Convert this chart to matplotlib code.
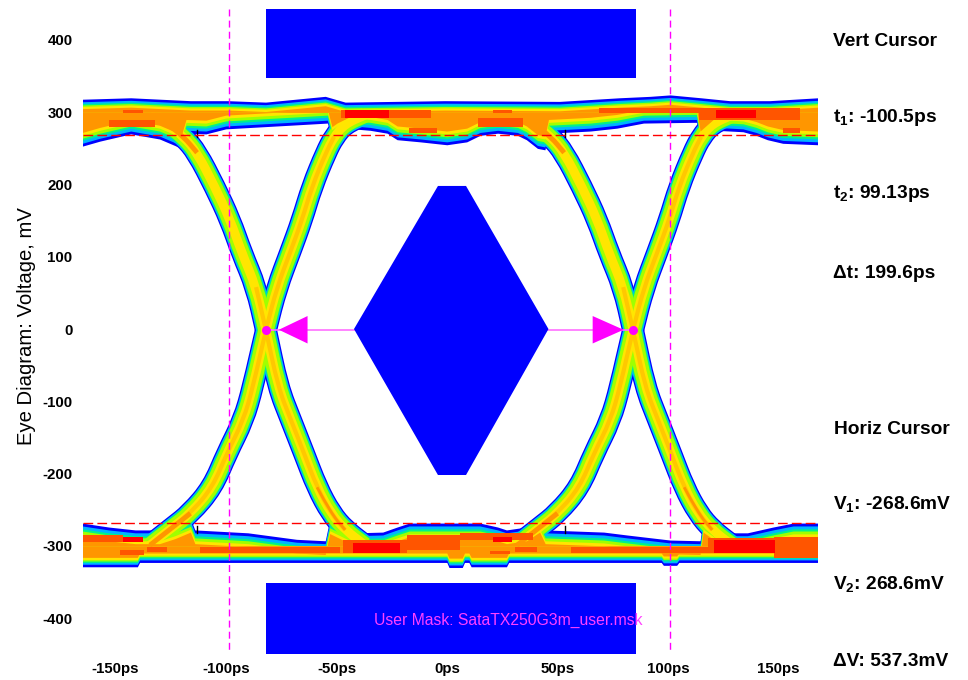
import matplotlib
matplotlib.use("Agg")
import matplotlib.pyplot as plt
from matplotlib.patches import PathPatch
from matplotlib.path import Path
from matplotlib.transforms import ScaledTranslation

plt.rcParams["font.family"] = ["Liberation Sans", "DejaVu Sans"]
plt.rcParams["mathtext.fontset"] = "custom"
plt.rcParams["mathtext.bf"] = "Liberation Sans:bold"
plt.rcParams["mathtext.rm"] = "Liberation Sans:bold"

x_ticks = [-150, -100, -50, 0, 50, 100, 150]
y_ticks = [-400, -300, -200, -100, 0, 100, 200, 300, 400]
t_cursors = [-99.6, 100.0]
v_cursors = [-268.6, 268.6]
crossing_t = [-82.8, 83.3]

# keep-out mask, ps / mV
hex_t = [-43, -5, 7.7, 45, 7.7, -5]
hex_v = [0, 198, 198, 0, -202, -202]
bar_t = [-82.8, 84.6]
top_bar_v = [347, 443]
bottom_bar_v = [-450, -351.6]

# rails: outer and eye-side edges
top_outer_t = [-166, -144, -117, -100, -83, -56, -47, -2, 50, 77, 91, 100, 114, 127, 145, 167]
top_outer_v = [318, 320, 316, 316, 314, 322, 314, 316, 315, 320, 322, 324, 320, 316, 316, 320]
top_inner_t = [-166, -158, -144, -131, -121, -119, -110, -101, -72, -55, -53, -50.7, -43.4, -35.7,
               -28, -23.5, -13, -1, 8, 14, 22, 31, 35, 40, 43.4, 45, 64, 76, 88, 110, 112, 113.6,
               121, 133, 139, 144, 151, 167]
top_inner_v = [253, 260, 270, 263, 250, 271, 270, 277, 282, 285, 261, 266, 277, 275,
               271, 262, 259, 255, 259, 268, 271, 268, 262, 250, 248, 271, 274, 278, 285, 286, 286, 255,
               275, 273, 268, 262, 257, 255]
bot_outer_t = [-166, -141, -140, -1, 0, 6, 7, 9, 10, 26, 27, 96, 97, 103, 104, 167]
bot_outer_v = [-329, -329, -323, -323, -330, -330, -323, -323, -329, -329, -323, -323, -327, -327, -323, -323]
bot_inner_t = [-166, -154, -142, -131, -124, -117, -115, -91, -69, -56, -54, -42, -30, -23.5, -18, 14,
               22, 26, 35, 41, 43.5, 70, 80.5, 100, 113.6, 115, 124, 135, 146.6, 155.7, 167]
bot_inner_v = [-268.5, -274, -278, -278, -271, -262, -278, -282, -291, -293, -264, -282, -281, -274, -268.5, -268.5,
               -274, -278, -274, -262, -278, -281, -285, -292, -293, -262, -282, -282, -274, -268.5, -268.5]

# trace centre lines around one crossing, repeated one UI later
eye_period = 166.1
fall_t = [-135.3, -128.5, -120, -114, -106, -99, -93.7, -87.3, -82.8, -77.4, -71.5, -65.6, -59.7, -53.4, -47, -38]
fall_v = [296, 286, 266, 244, 197, 151, 105, 58, -1, -80, -126, -172, -219, -255, -278, -299]
rise_t = [-135.3, -125.3, -117, -107, -100.5, -93, -88.7, -82.8, -77.8, -72, -66.5, -62, -55.7, -52, -47, -38]
rise_v = [-299, -275, -255, -219, -172, -126, -80, 0, 58, 105, 151, 197, 244, 266, 284, 296]

# hot spots in the rails: t start, t end, v low, v high
hot_t0 = [-147.5, -154, -49, -18, 13, 20, 68, 113, 151,
          -166, -149, -136.7, -112.7, -48, -19, 5, 18.5, 30, 55, 117, 147]
hot_t1 = [-138.5, -133, -8, -5.4, 33.5, 28.5, 118, 159, 159,
          -147.5, -138, -127.6, -49.3, -19, 5, 38, 27.6, 40, 117, 154, 167]
hot_v0 = [299, 280, 292, 271, 280, 299, 299, 289, 271,
          -295, -313, -309, -310, -310, -306, -292, -311, -309, -310, -310, -317]
hot_v1 = [303, 289, 303, 278, 292, 303, 306, 306, 278,
          -285, -306, -302, -302, -292, -285, -282, -307, -302, -302, -289, -288]
red_t0 = [-47, 121, -147.5, -43.4, 20, 120]
red_t1 = [-27, 139, -138.5, -22, 28.5, 147.5]
red_v0 = [292, 292, -295, -310, -295, -310]
red_v1 = [303, 303, -288, -296, -288, -292]

marks_t = [-114, -114, 52.5, 52.5]
marks_v = [271, -277, 271, -277]

band_colors = ["#0000ff", "#00b4ff", "#00f08c", "#a0ff00", "#ffe600", "#ff9600"]
outer_inset = [0, 3.5, 6, 8, 10, 13]
inner_inset = [0, 4, 8, 11, 15, 19]
arm_widths = [15.8, 14, 12.6, 11.2, 6.5, 0]


def shifted(values, inset):
    return [v + inset for v in values]


def draw_arm(ax, t, v, color, lw, z):
    # quadratic pieces through the midpoints so the trace has no corners
    verts = [(t[0], v[0])]
    codes = [Path.MOVETO]
    for i in range(1, len(t) - 1):
        verts.append((t[i], v[i]))
        verts.append(((t[i] + t[i + 1]) / 2, (v[i] + v[i + 1]) / 2))
        codes.extend([Path.CURVE3, Path.CURVE3])
    verts.append((t[-1], v[-1]))
    codes.append(Path.LINETO)
    ax.add_patch(PathPatch(Path(verts, codes), fill=False, edgecolor=color, lw=lw,
                           capstyle="butt", joinstyle="round", zorder=z))


fig = plt.figure(figsize=(9.68, 6.8), dpi=100)
ax = fig.add_axes([83 / 968, 1 - 660 / 680, 734 / 968, 655 / 680])

for level, color in enumerate(band_colors):
    z = 2 + level
    ax.fill_between(top_outer_t, shifted(top_outer_v, -outer_inset[level]), 300, color=color, lw=0, zorder=z)
    ax.fill_between(top_inner_t, shifted(top_inner_v, inner_inset[level]), 300, color=color, lw=0, zorder=z)
    ax.fill_between(bot_outer_t, shifted(bot_outer_v, outer_inset[level]), -300, color=color, lw=0, zorder=z)
    ax.fill_between(bot_inner_t, shifted(bot_inner_v, -inner_inset[level]), -300, color=color, lw=0, zorder=z)
    if arm_widths[level] > 0:
        for ui in [0, eye_period]:
            draw_arm(ax, shifted(fall_t, ui), fall_v, color, arm_widths[level], z)
            draw_arm(ax, shifted(rise_t, ui), rise_v, color, arm_widths[level], z)

# warm core of the traces
for ui in [0, eye_period]:
    draw_arm(ax, shifted(fall_t[7:15], ui), fall_v[7:15], "#ffc800", 3, 8)
    draw_arm(ax, shifted(rise_t[1:14], ui), rise_v[1:14], "#ffc800", 3, 8)
    draw_arm(ax, shifted(fall_t[0:4], ui), fall_v[0:4], "#ff9600", 3.5, 8)
    draw_arm(ax, shifted(fall_t[12:15], ui), fall_v[12:15], "#ff9600", 2, 8)
    draw_arm(ax, shifted(rise_t[0:3], ui), rise_v[0:3], "#ff9600", 3.5, 8)

for t0, t1, v0, v1 in zip(hot_t0, hot_t1, hot_v0, hot_v1):
    ax.fill_between([t0, t1], v0, v1, color="#ff5500", lw=0, zorder=9)
for t0, t1, v0, v1 in zip(red_t0, red_t1, red_v0, red_v1):
    ax.fill_between([t0, t1], v0, v1, color="#ff0000", lw=0, zorder=10)

for t, v in zip(marks_t, marks_v):
    ax.plot([t, t], [v - 5, v + 5], color="black", lw=1, zorder=11)

# mask
ax.fill(hex_t, hex_v, color="#0000ff", lw=0, zorder=12)
ax.fill_between(bar_t, top_bar_v[0], top_bar_v[1], color="#0000ff", lw=0, zorder=12)
ax.fill_between(bar_t, bottom_bar_v[0], bottom_bar_v[1], color="#0000ff", lw=0, zorder=12)

# cursors
for t in t_cursors:
    ax.plot([t, t], [443, -446], color="#ff00ff", lw=1, dashes=(5, 3), zorder=13)
for v in v_cursors:
    ax.axhline(v, color="#ff0000", lw=1, dashes=(7, 3), zorder=13)

# crossing markers and eye width arrow
ax.plot(crossing_t, [-1, -1], color="#ff70ff", lw=1.2, zorder=11)
ax.plot(crossing_t, [-1, -1], ls="none", marker="o", ms=6.5, color="#ff00ff", mew=0, zorder=14)
ax.fill([-77, -64, -64], [-1, 18, -20], color="#ff00ff", lw=0, zorder=14)
ax.fill([79, 65, 65], [-1, 18, -20], color="#ff00ff", lw=0, zorder=14)

ax.text(27, -403, "User Mask: SataTX250G3m_user.msk", color="#ff40ff", fontsize=11.3, ha="center", va="center", zorder=15)

ax.set_xlim(-165.6, 166.5)
ax.set_ylim(-458, 448.4)
ax.set_xticks(x_ticks)
ax.set_xticklabels([f"{t}ps" for t in x_ticks], fontweight="bold", fontsize=10.8)
ax.set_yticks(y_ticks)
ax.set_yticklabels([str(v) for v in y_ticks], fontweight="bold", fontsize=10.8)
ax.tick_params(length=0)
ax.tick_params(axis="x", pad=1.5)
ax.tick_params(axis="y", pad=7.5)
nudge = ScaledTranslation(-2 / 100, 0, fig.dpi_scale_trans)
for label in ax.get_xticklabels():
    label.set_transform(label.get_transform() + nudge)
for side in ax.spines.values():
    side.set_visible(False)

fig.text(27 / 968, 1 - 326 / 680, "Eye Diagram: Voltage, mV", rotation=90, fontsize=14.6, ha="center", va="center")

side_labels = [
    (833, 41, "Vert Cursor"),
    (833, 117, r"$\mathbf{t}_\mathbf{1}$: -100.5ps"),
    (833, 194, r"$\mathbf{t}_\mathbf{2}$: 99.13ps"),
    (833, 274, "Δt: 199.6ps"),
    (834, 430, "Horiz Cursor"),
    (833, 505, r"$\mathbf{V}_\mathbf{1}$: -268.6mV"),
    (833, 585, r"$\mathbf{V}_\mathbf{2}$: 268.6mV"),
    (833, 662, "ΔV: 537.3mV"),
]
for px, py, label in side_labels:
    fig.text(px / 968, 1 - py / 680, label, fontsize=13.8, fontweight="bold", ha="left", va="center")

fig.savefig("out.png", dpi=100)
